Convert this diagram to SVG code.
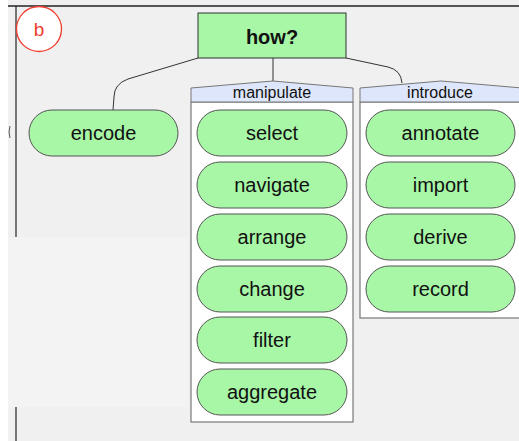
<svg xmlns="http://www.w3.org/2000/svg" width="519" height="441" viewBox="0 0 519 441">
<style>
.pill{fill:#a7f7a7;stroke:#555;stroke-width:1}
.t{font-family:"Liberation Sans",Arial,sans-serif;font-size:20px;fill:#111;text-anchor:middle}
.hdr{fill:#dde6fb;stroke:#777;stroke-width:1}
.ht{font-family:"Liberation Sans",Arial,sans-serif;font-size:16px;fill:#111;text-anchor:middle}
.panel{fill:#fff;stroke:#777;stroke-width:1.2}
.conn{fill:none;stroke:#333;stroke-width:1}
</style>
<rect x="0" y="0" width="519" height="441" fill="#fff"/>
<rect x="8" y="0" width="511" height="441" fill="#f0f0f0"/>
<rect x="8" y="237" width="180" height="170" fill="#f3f3f3"/>
<line x1="8" y1="6" x2="519" y2="6" stroke="#222" stroke-width="1.5"/>
<line x1="16" y1="6" x2="16" y2="237" stroke="#222" stroke-width="1.2"/>
<line x1="16" y1="407" x2="16" y2="441" stroke="#222" stroke-width="1.2"/>
<path d="M10,126 Q8,132 10,138" fill="none" stroke="#555" stroke-width="1"/>
<g id="label-b">
<circle cx="39" cy="29" r="22.5" fill="#fff" stroke="#f03c2c" stroke-width="1.3"/>
<text x="39" y="36" font-family="'Liberation Sans',Arial,sans-serif" font-size="19" fill="#f03c2c" text-anchor="middle">b</text>
</g>
<g id="connectors">
<path class="conn" d="M198,58 L128,79 Q114,84 114,97 L113,110"/>
<path class="conn" d="M273,58 L273,81"/>
<path class="conn" d="M346,58 L388,67 Q401,70 402,83"/>
</g>
<g id="how">
<rect x="198" y="13" width="148" height="45" fill="#a7f7a7" stroke="#333" stroke-width="1"/>
<text x="272" y="44" font-family="'Liberation Sans',Arial,sans-serif" font-size="20" font-weight="bold" fill="#111" text-anchor="middle">how?</text>
</g>
<g id="encode">
<rect class="pill" x="29" y="110" width="149" height="46" rx="23"/>
<text class="t" x="103.5" y="140">encode</text>
</g>
<g id="manipulate">
<rect class="panel" x="191" y="102" width="162" height="320"/>
<path class="hdr" d="M191,102 L191,88 L273,81 L353,88 L353,102 Z"/>
<text class="ht" x="272" y="98">manipulate</text>
</g>
<g id="introduce">
<rect class="panel" x="360" y="102" width="170" height="216"/>
<path class="hdr" d="M360,102 L360,88 L441,81 L522,88 L522,102 Z"/>
<text class="ht" x="440" y="98">introduce</text>
</g>
<g id="select"><rect class="pill" x="197" y="110" width="150" height="46" rx="23"/><text class="t" x="272" y="140">select</text></g>
<g id="navigate"><rect class="pill" x="197" y="162" width="150" height="46" rx="23"/><text class="t" x="272" y="192">navigate</text></g>
<g id="arrange"><rect class="pill" x="197" y="214" width="150" height="46" rx="23"/><text class="t" x="272" y="244">arrange</text></g>
<g id="change"><rect class="pill" x="197" y="266" width="150" height="46" rx="23"/><text class="t" x="272" y="296">change</text></g>
<g id="filter"><rect class="pill" x="197" y="317" width="150" height="46" rx="23"/><text class="t" x="272" y="347">filter</text></g>
<g id="aggregate"><rect class="pill" x="197" y="369" width="150" height="46" rx="23"/><text class="t" x="272" y="399">aggregate</text></g>
<g id="annotate"><rect class="pill" x="366" y="110" width="149" height="46" rx="23"/><text class="t" x="440.5" y="140">annotate</text></g>
<g id="import"><rect class="pill" x="366" y="162" width="149" height="46" rx="23"/><text class="t" x="440.5" y="192">import</text></g>
<g id="derive"><rect class="pill" x="366" y="214" width="149" height="46" rx="23"/><text class="t" x="440.5" y="244">derive</text></g>
<g id="record"><rect class="pill" x="366" y="266" width="149" height="46" rx="23"/><text class="t" x="440.5" y="296">record</text></g>
</svg>
